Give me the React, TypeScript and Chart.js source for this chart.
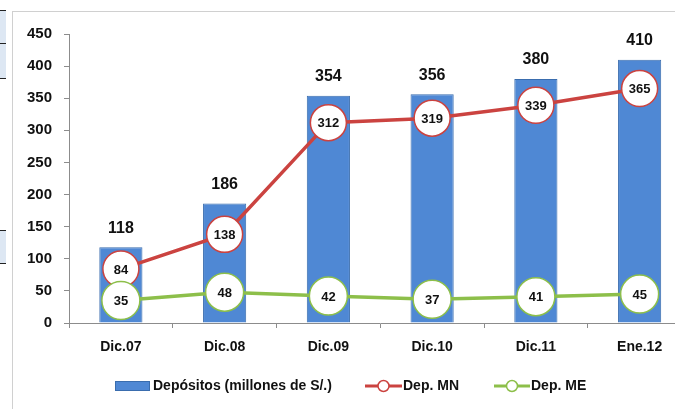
import React, { useEffect, useRef } from "react";
import { Chart, registerables } from "chart.js";

Chart.register(...registerables);

const categories = ["Dic.07", "Dic.08", "Dic.09", "Dic.10", "Dic.11", "Ene.12"];
const depositos = [118, 186, 354, 356, 380, 410];
const depMN = [84, 138, 312, 319, 339, 365];
const depME = [35, 48, 42, 37, 41, 45];
const seriesLabels = ["Depósitos (millones de S/.)", "Dep. MN", "Dep. ME"];
const yMax = 450;
const yStep = 50;

const BLUE = "#4F88D4";
const BLUE_BORDER = "#3A6DAE";
const RED = "#CB4340";
const GREEN = "#8DBF4A";
const AXIS = "#8C8C8C";
const FONT = "'Liberation Sans', Arial, sans-serif";

const labelsPlugin = {
  id: "valueLabels",
  afterDatasetsDraw(chart: any) {
    const ctx = chart.ctx;
    ctx.save();
    ctx.textAlign = "center";
    ctx.textBaseline = "middle";
    ctx.fillStyle = "#111";
    chart.data.datasets.forEach((ds: any, di: number) => {
      const meta = chart.getDatasetMeta(di);
      meta.data.forEach((el: any, i: number) => {
        const v = ds.data[i];
        if (ds.type === "bar") {
          ctx.font = `bold 16px ${FONT}`;
          ctx.fillText(String(v), el.x, el.y - 19);
        } else {
          ctx.font = `bold 13px ${FONT}`;
          ctx.fillText(String(v), el.x, el.y + 1);
        }
      });
    });
    ctx.restore();
  },
};

const legendPlugin = {
  id: "customLegend",
  afterDraw(chart: any) {
    const ctx = chart.ctx;
    const ds = chart.data.datasets;
    const cy = 386;
    ctx.save();
    ctx.font = `bold 14px ${FONT}`;
    ctx.textBaseline = "middle";
    ctx.textAlign = "left";
    ctx.fillStyle = ds[0].backgroundColor;
    ctx.fillRect(115, cy - 5, 35, 10);
    ctx.strokeStyle = ds[0].borderColor;
    ctx.lineWidth = 1;
    ctx.strokeRect(115.5, cy - 4.5, 34, 9);
    ctx.fillStyle = "#111";
    ctx.fillText(ds[0].label, 153, cy);
    const items = [
      { d: ds[1], x0: 365, x1: 402 },
      { d: ds[2], x0: 494, x1: 530 },
    ];
    items.forEach((it) => {
      ctx.strokeStyle = it.d.borderColor;
      ctx.lineWidth = 3;
      ctx.beginPath();
      ctx.moveTo(it.x0, cy);
      ctx.lineTo(it.x1, cy);
      ctx.stroke();
      ctx.beginPath();
      ctx.arc((it.x0 + it.x1) / 2, cy, 5.5, 0, Math.PI * 2);
      ctx.fillStyle = "#fff";
      ctx.fill();
      ctx.lineWidth = 1.5;
      ctx.stroke();
      ctx.fillStyle = "#111";
      ctx.fillText(it.d.label, it.x1 + 1, cy);
    });
    ctx.restore();
  },
};

export default function App() {
  const ref = useRef<HTMLCanvasElement>(null);

  useEffect(() => {
    if (!ref.current) return;
    const chart = new Chart(ref.current, {
      type: "bar",
      data: {
        labels: categories,
        datasets: [
          {
            type: "bar",
            label: seriesLabels[0],
            data: depositos,
            backgroundColor: BLUE,
            borderColor: BLUE_BORDER,
            borderWidth: 1,
            barPercentage: 0.8,
            categoryPercentage: 0.52,
            order: 3,
          } as any,
          {
            type: "line",
            label: seriesLabels[1],
            data: depMN,
            borderColor: RED,
            borderWidth: 3.5,
            tension: 0,
            pointRadius: 18,
            pointHoverRadius: 18,
            pointBorderWidth: 1.5,
            pointBackgroundColor: "#fff",
            pointBorderColor: RED,
            order: 2,
          } as any,
          {
            type: "line",
            label: seriesLabels[2],
            data: depME,
            borderColor: GREEN,
            borderWidth: 3.5,
            tension: 0,
            pointRadius: 19,
            pointHoverRadius: 19,
            pointBorderWidth: 1.5,
            pointBackgroundColor: "#fff",
            pointBorderColor: GREEN,
            order: 1,
          } as any,
        ],
      },
      options: {
        responsive: false,
        animation: false,
        devicePixelRatio: 1,
        layout: { padding: { top: 34, right: 7, left: 0, bottom: 0 } },
        plugins: {
          legend: { display: false },
          tooltip: { enabled: false },
          title: { display: false },
        },
        scales: {
          x: {
            grid: {
              display: true,
              drawOnChartArea: false,
              drawTicks: true,
              tickLength: 5,
              color: AXIS,
              offset: true,
            },
            border: { display: true, color: AXIS, width: 1 },
            ticks: {
              color: "#111",
              font: { family: FONT, size: 14, weight: "bold" },
              padding: 11,
              maxRotation: 0,
            },
            afterFit(scale: any) {
              scale.height = 86;
            },
          },
          y: {
            min: 0,
            max: yMax,
            ticks: {
              stepSize: yStep,
              color: "#111",
              font: { family: FONT, size: 15, weight: "bold" },
              padding: 12,
            },
            grid: {
              display: true,
              drawOnChartArea: false,
              drawTicks: true,
              tickLength: 5,
              color: AXIS,
            },
            border: { display: true, color: AXIS, width: 1 },
            afterFit(scale: any) {
              scale.width = 69;
            },
          },
        },
      } as any,
      plugins: [labelsPlugin, legendPlugin],
    });
    return () => chart.destroy();
  }, []);

  const cellLine = (top: number) => (
    <div style={{ position: "absolute", left: 0, top, width: 6, height: 1, background: "#222" }} />
  );

  return (
    <div
      style={{
        position: "fixed",
        left: 0,
        top: 0,
        width: 675,
        height: 409,
        overflow: "hidden",
        background: "#fff",
      }}
    >
      <div style={{ position: "absolute", left: 0, top: 10, width: 6, height: 68, background: "#dde7f3" }} />
      <div style={{ position: "absolute", left: 0, top: 230, width: 6, height: 33, background: "#dde7f3" }} />
      {cellLine(10)}
      {cellLine(43)}
      {cellLine(78)}
      {cellLine(230)}
      {cellLine(263)}
      <div style={{ position: "absolute", left: 12, top: 11, width: 663, height: 1, background: "#d0d0d0" }} />
      <div style={{ position: "absolute", left: 12, top: 11, width: 1, height: 398, background: "#d0d0d0" }} />
      <canvas
        ref={ref}
        width={712}
        height={409}
        style={{ position: "absolute", left: 0, top: 0, width: 712, height: 409 }}
      />
    </div>
  );
}
